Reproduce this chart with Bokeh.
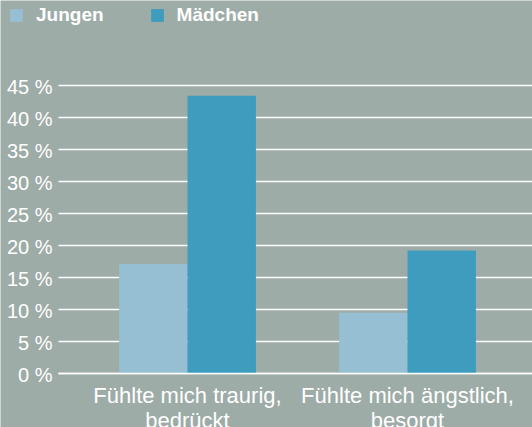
from bokeh.plotting import figure
from bokeh.models import Range1d, Legend, LegendItem
from bokeh.core.properties import value
from bokeh.embed import file_html
from bokeh.resources import INLINE

categories = ["Fühlte mich traurig,\nbedrückt", "Fühlte mich ängstlich,\nbesorgt"]
jungen = [17.1, 9.5]
maedchen = [43.4, 19.2]
y_ticks = [0, 5, 10, 15, 20, 25, 30, 35, 40, 45]
y_tick_labels = ["0 %", "5 %", "10 %", "15 %", "20 %", "25 %", "30 %", "35 %", "40 %", "45 %"]
series_names = ["Jungen", "Mädchen"]

BG = "#9eaca8"
C_J = "#96bfd4"
C_M = "#3e9cbf"
FONT = "Liberation Sans"

positions = [i + 1 for i in range(len(categories))]
bw = 0.311
x_start, x_end = 0.15, 2.56818
grid_x0 = 0.41364  # left end of the gridlines (plot-area edge)

p = figure(width=532, height=427, output_backend="svg", toolbar_location=None,
           x_range=Range1d(x_start, x_end), y_range=Range1d(-8.4375, 58.28),
           min_border_left=0, min_border_right=0, min_border_top=0, min_border_bottom=0)
p.background_fill_color = BG
p.border_fill_color = BG
p.outline_line_color = None
p.axis.visible = False
p.grid.visible = False

# gridlines
p.ray(x=[grid_x0] * len(y_ticks), y=y_ticks, length=0, angle=0, line_color="white", line_width=1.5)

r1 = p.vbar(x=[x - bw / 2 for x in positions], top=jungen, width=bw, color=C_J, line_color=None)
r2 = p.vbar(x=[x + bw / 2 for x in positions], top=maedchen, width=bw, color=C_M, line_color=None)

# baseline on top of the bars
p.ray(x=[grid_x0], y=[y_ticks[0]], length=0, angle=0, line_color="white", line_width=1.5)

# y tick labels
p.text(x=[grid_x0] * len(y_ticks), y=y_ticks, text=y_tick_labels, x_offset=-6, y_offset=2,
       text_align="right", text_baseline="alphabetic", text_color="white",
       text_font=value(FONT), text_font_size="20px")

# category labels
p.text(x=positions, y=[0] * len(positions), text=categories, y_offset=10,
       text_align="center", text_baseline="top", text_color="white",
       text_font=value(FONT), text_font_size="22px",
       text_line_height=1.0)

legend = Legend(items=[LegendItem(label=series_names[0], renderers=[r1]),
                       LegendItem(label=series_names[1], renderers=[r2])],
                orientation="horizontal", location=(8, 401),
                background_fill_alpha=0, border_line_color=None,
                padding=0, margin=0, spacing=45,
                glyph_width=16, glyph_height=16, label_standoff=12, label_height=16,
                label_text_color="white", label_text_font=FONT,
                label_text_font_style="bold", label_text_font_size="19px")
p.add_layout(legend, "center")

open("out.html", "w").write(file_html(p, INLINE))
